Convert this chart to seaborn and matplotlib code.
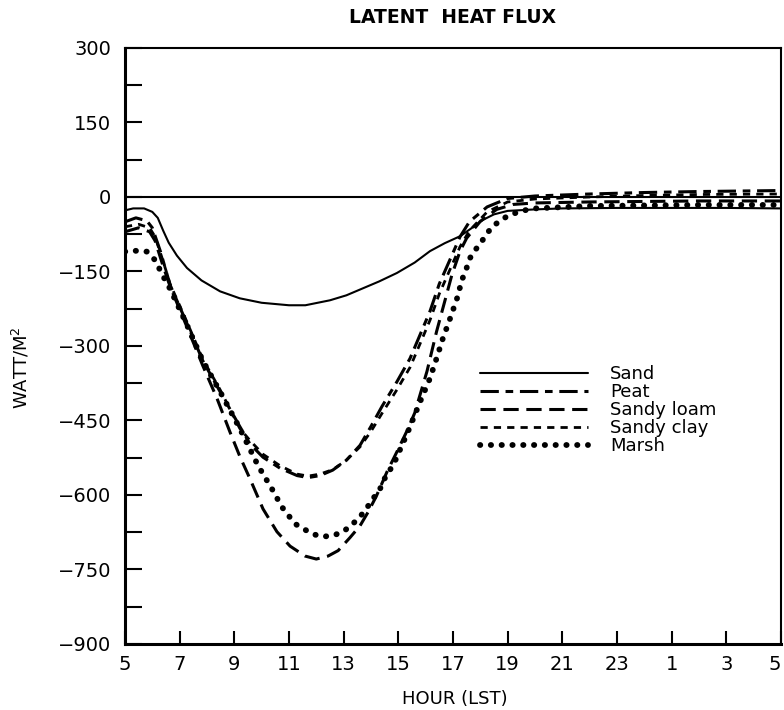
import matplotlib
matplotlib.use("Agg")
import matplotlib.pyplot as plt
import seaborn as sns
import pandas as pd

# Hours after 05 LST (continuous clock, 29 = 05 next day)
sand_hour = [5.0, 5.3, 5.7, 6.0, 6.2, 6.4, 6.6, 6.9, 7.27, 7.8, 8.48, 9.2, 10.0, 11.0, 11.6,
             12.5, 13.1, 13.7, 14.3, 14.95, 15.6, 16.16, 16.7, 17.26, 17.7, 18.1, 18.5, 19.0,
             20.0, 21.0, 23.0, 25.0, 27.0, 29.0]
sand_flux = [-27, -23, -23, -30, -42, -68, -92, -118, -143, -168, -190, -204, -213, -218, -218,
             -208, -198, -184, -170, -153, -132, -109, -93, -79, -62, -46, -35, -28,
             -25, -23, -22, -22, -22, -23]

peat_hour = [5.0, 5.4, 5.8, 6.0, 6.3, 6.65, 7.27, 7.85, 8.48, 9.2, 9.57, 10.05, 10.67, 11.3, 11.7,
             12.13, 12.6, 13.1, 13.6, 14.0, 14.4, 14.95, 15.43, 15.8, 16.16, 16.5, 16.9, 17.26,
             17.6, 18.25, 19.0, 20.0, 22.0, 24.0, 26.0, 29.0]
peat_flux = [-50, -42, -48, -62, -110, -177, -255, -330, -392, -462, -497, -524, -546, -561, -565,
             -561, -550, -530, -500, -462, -422, -372, -325, -277, -230, -175, -125, -80,
             -50, -20, -3, 2, 6, 9, 11, 13]

loam_hour = [5.0, 5.5, 5.9, 6.1, 6.4, 6.65, 7.27, 7.85, 8.37, 8.84, 9.2, 9.57, 10.05, 10.56, 11.04,
             11.59, 12.0, 12.43, 12.8, 13.23, 13.6, 13.9, 14.2, 14.59, 14.95, 15.3, 15.6, 16.05,
             16.4, 16.7, 16.96, 17.26, 17.5, 18.0, 18.6, 19.2, 20.0, 22.0, 24.0, 26.0, 29.0]
loam_flux = [-70, -62, -70, -88, -140, -180, -262, -340, -406, -473, -522, -567, -628, -674, -703,
             -723, -729, -723, -712, -686, -662, -634, -602, -553, -513, -473, -435, -351,
             -271, -210, -157, -109, -83, -49, -25, -15, -12, -10, -9, -8, -8]

clay_hour = [5.0, 5.5, 5.9, 6.1, 6.4, 6.65, 7.27, 7.85, 8.48, 9.2, 9.57, 10.05, 10.67, 11.3, 11.7,
             12.13, 12.6, 13.1, 13.6, 14.0, 14.4, 14.95, 15.43, 15.8, 16.16, 16.5, 16.9, 17.26,
             17.6, 18.25, 19.0, 20.0, 22.0, 24.0, 26.0, 29.0]
clay_flux = [-60, -55, -62, -80, -130, -175, -252, -327, -388, -466, -490, -518, -541, -558, -562,
             -558, -549, -530, -503, -472, -436, -388, -343, -295, -248, -195, -145, -100,
             -68, -30, -10, -4, 0, 3, 5, 6]

marsh_hour = [5.0, 5.3, 5.8, 6.1, 6.4, 6.65, 7.27, 7.85, 8.48, 9.2, 9.87, 10.38, 10.74, 11.22, 11.84,
              12.2, 12.6, 12.98, 13.3, 13.6, 13.85, 14.07, 14.33, 14.5, 14.77, 14.95, 15.13, 15.3,
              15.8, 16.16, 16.4, 16.63, 16.9, 17.15, 17.33, 17.5, 17.6, 17.8, 18.06, 18.25, 18.47,
              19.0, 19.5, 20.0, 22.0, 24.0, 26.0, 29.0]
marsh_flux = [-110, -108, -110, -127, -160, -185, -258, -330, -392, -466, -541, -588, -624, -658, -678,
              -684, -682, -674, -660, -644, -626, -608, -588, -567, -543, -524, -500, -480,
              -412, -365, -325, -285, -244, -204, -167, -143, -125, -108, -89, -73, -58,
              -38, -28, -23, -18, -17, -16, -16]

soil_names = ["Sand", "Peat", "Sandy loam", "Sandy clay", "Marsh"]

x_ticks = [5, 7, 9, 11, 13, 15, 17, 19, 21, 23, 25, 27, 29]
x_tick_labels = ["5", "7", "9", "11", "13", "15", "17", "19", "21", "23", "1", "3", "5"]
y_ticks = [-900, -750, -600, -450, -300, -150, 0, 150, 300]
y_minor_ticks = [-825, -675, -525, -375, -225, -75, 75, 225]

series = {
    "Sand": (sand_hour, sand_flux),
    "Peat": (peat_hour, peat_flux),
    "Sandy loam": (loam_hour, loam_flux),
    "Sandy clay": (clay_hour, clay_flux),
    "Marsh": (marsh_hour, marsh_flux),
}

styles = {
    "Sand": dict(linestyle="-", linewidth=1.5),
    "Peat": dict(linestyle=(0, (6, 2.2, 2.5, 2.2)), linewidth=2.2),
    "Sandy loam": dict(linestyle=(0, (5, 2.5)), linewidth=2.2),
    "Sandy clay": dict(linestyle=(0, (2.6, 2.2)), linewidth=2.0),
    "Marsh": dict(linestyle=(0, (0.05, 1.8)), linewidth=4.2, dash_capstyle="round"),
}

sns.set_theme(style="ticks", rc={
    "text.color": "black", "axes.labelcolor": "black",
    "xtick.color": "black", "ytick.color": "black", "axes.edgecolor": "black",
})
plt.rcParams["font.family"] = ["DejaVu Sans"]

fig = plt.figure(figsize=(7.84, 7.10), dpi=100)
ax = fig.add_axes([0.1594, 0.0930, 0.8367, 0.8394])

ax.axhline(0, color="black", linewidth=1.5, zorder=1)

for name in soil_names:
    hrs, vals = series[name]
    df = pd.DataFrame({"hour": hrs, "flux": vals})
    sns.lineplot(data=df, x="hour", y="flux", ax=ax, color="black", estimator=None,
                 sort=False, label=name, **styles[name])

ax.set_xlim(5, 29)
ax.set_ylim(-900, 300)
ax.set_xticks(x_ticks)
ax.set_xticklabels(x_tick_labels)
ax.set_yticks(y_ticks)
ax.set_yticks(y_minor_ticks, minor=True)
ax.set_yticklabels([str(v).replace("-", "\u2212") for v in y_ticks])
# keep the last hour label inside the canvas
ax.get_xticklabels()[-1].set_horizontalalignment("right")

ax.tick_params(axis="both", which="both", direction="in", color="black", width=1.5,
               labelsize=14, labelcolor="black", left=True, bottom=True,
               top=False, right=False)
ax.tick_params(axis="y", which="both", length=12, pad=10)
ax.tick_params(axis="x", which="major", length=9.5, pad=8)

for side in ["left", "bottom"]:
    ax.spines[side].set_linewidth(2.2)
for side in ["top", "right"]:
    ax.spines[side].set_linewidth(1.5)

ax.set_xlabel("HOUR (LST)", fontsize=13)
ax.xaxis.set_label_coords(0.503, -0.077)
ax.xaxis.label.set_verticalalignment("top")
ax.set_ylabel("WATT/M$^2$", fontsize=13)
ax.yaxis.set_label_coords(-0.142, 0.463)
ax.set_title("LATENT  HEAT FLUX", fontsize=13.5, fontweight="bold", pad=18)

leg = ax.legend(loc="upper left", bbox_to_anchor=(0.541, 0.468), frameon=False,
                fontsize=13, handlelength=6.0, handletextpad=1.2, labelspacing=0.0,
                borderpad=0, borderaxespad=0)
for h in leg.get_lines():
    h.set_color("black")

fig.savefig("out.png", dpi=100, facecolor="white")
